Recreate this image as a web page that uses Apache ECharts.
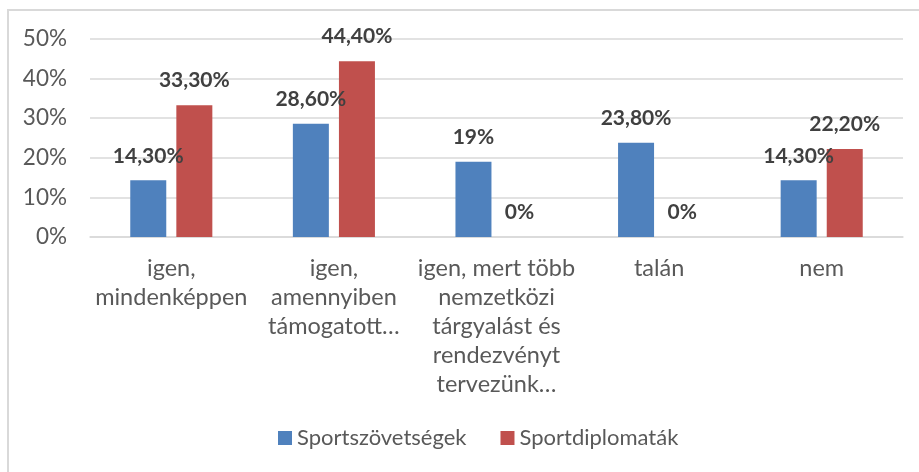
<!DOCTYPE html>
<html>
<head>
<meta charset="utf-8">
<script src="https://cdn.jsdelivr.net/npm/echarts@6/dist/echarts.min.js"></script>
<style>
  html, body { margin: 0; padding: 0; background: #fff; }
  #chart { width: 919px; height: 472px; }
</style>
</head>
<body>
<div id="chart"></div>
<script>
// kategóriák (a sortörések a képen látható tördelést követik)
const categories = [
  'igen,\nmindenképpen',
  'igen,\namennyiben\ntámogatott…',
  'igen, mert több\nnemzetközi\ntárgyalást és\nrendezvényt\ntervezünk…',
  'talán',
  'nem'
]
const seriesNames = ['Sportszövetségek', 'Sportdiplomaták']
const sportszovetsegek = [14.3, 28.6, 19, 23.8, 14.3]
const sportdiplomatak = [33.3, 44.4, 0, 0, 22.2]
const yTicks = [0, 10, 20, 30, 40, 50]

const textColor = '#595959'
const fontFamily = 'Lato, "Open Sans", sans-serif'

// Excel-szerű címke: 14,30% / 19% / 0%
function fmtLabel(p) {
  const v = p.value
  return Number.isInteger(v) ? v + '%' : v.toFixed(2).replace('.', ',') + '%'
}

const chart = echarts.init(document.getElementById('chart'))

const labelStyle = {
  show: true,
  position: 'top',
  distance: 14,
  formatter: fmtLabel,
  color: '#404040',
  fontWeight: 'bold',
  fontSize: 21,
  fontFamily: fontFamily
}

chart.setOption({
  animation: false,
  textStyle: { fontFamily: fontFamily },
  graphic: [{
    type: 'rect',
    shape: { x: 8, y: 10, width: 930, height: 480 },
    style: { fill: 'none', stroke: '#d9d9d9', lineWidth: 2 },
    silent: true,
    z: -1
  }],
  grid: { left: 90, right: 16, top: 39, bottom: 235 },
  legend: {
    bottom: 18,
    left: 273,
    itemWidth: 14,
    itemHeight: 14,
    itemGap: 34,
    icon: 'rect',
    textStyle: { color: textColor, fontSize: 22, fontFamily: fontFamily },
    data: seriesNames
  },
  xAxis: {
    type: 'category',
    data: categories,
    axisTick: { show: false },
    axisLine: { lineStyle: { color: '#d9d9d9', width: 1.5 } },
    axisLabel: {
      color: textColor,
      fontSize: 23.5,
      lineHeight: 29,
      margin: 17,
      interval: 0,
      fontFamily: fontFamily
    }
  },
  yAxis: {
    type: 'value',
    min: yTicks[0],
    max: yTicks[yTicks.length - 1],
    interval: 10,
    axisLine: { show: false },
    axisTick: { show: false },
    splitLine: { lineStyle: { color: '#d9d9d9', width: 1.5 } },
    axisLabel: {
      color: textColor,
      fontSize: 22.5,
      margin: 23,
      formatter: '{value}%',
      fontFamily: fontFamily
    }
  },
  series: [
    {
      name: seriesNames[0],
      type: 'bar',
      data: sportszovetsegek,
      barWidth: 36,
      barGap: '28%',
      itemStyle: { color: '#4f81bd' },
      label: labelStyle
    },
    {
      name: seriesNames[1],
      type: 'bar',
      data: sportdiplomatak,
      barWidth: 36,
      itemStyle: { color: '#c0504d' },
      label: labelStyle
    }
  ]
})
</script>
</body>
</html>
